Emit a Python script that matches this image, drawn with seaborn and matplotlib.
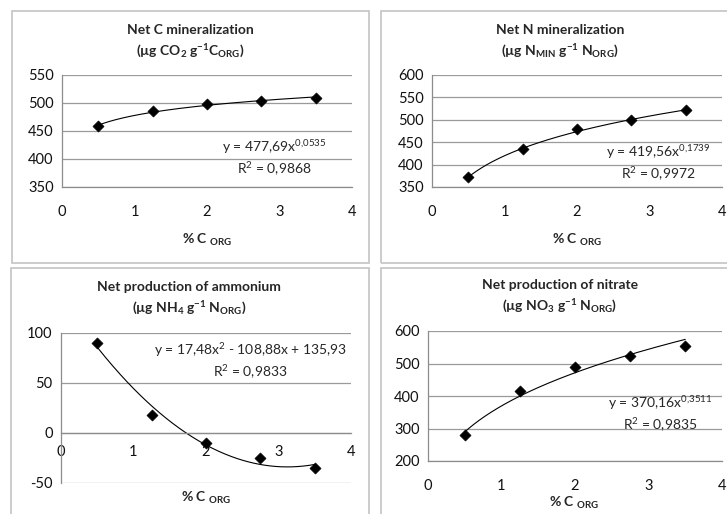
import numpy as np
import seaborn as sns
import matplotlib.pyplot as plt
from matplotlib.patches import Rectangle

sns.set_style("white")
plt.rcParams['font.family'] = ['Lato', 'DejaVu Sans']
plt.rcParams['mathtext.default'] = 'regular'
plt.rcParams['axes.unicode_minus'] = False

corg = [0.5, 1.25, 2, 2.75, 3.5]
c_min = [459, 485, 499, 503, 509]
n_min = [372, 434, 479, 499, 521]
nh4 = [90, 18, -10, -25, -35]
no3 = [281, 416, 488, 522, 555]

titles = [
    "Net C mineralization\n(µg CO$_2$ g$^{-1}$C$_{ORG}$)",
    "Net N mineralization\n(µg N$_{MIN}$ g$^{-1}$ N$_{ORG}$)",
    "Net production of ammonium\n(µg NH$_4$ g$^{-1}$ N$_{ORG}$)",
    "Net production of nitrate\n(µg NO$_3$ g$^{-1}$ N$_{ORG}$)",
]
equations = [
    "y = 477,69x$^{0{,}0535}$\nR$^2$ = 0,9868",
    "y = 419,56x$^{0{,}1739}$\nR$^2$ = 0,9972",
    "y = 17,48x$^2$ - 108,88x + 135,93\nR$^2$ = 0,9833",
    "y = 370,16x$^{0{,}3511}$\nR$^2$ = 0,9835",
]
ylims = [(350, 550), (350, 600), (-50, 100), (200, 600)]
ysteps = [50, 50, 50, 100]
fit_kind = ["power", "power", "poly2", "power"]
series = [c_min, n_min, nh4, no3]

W, H = 727, 514
fig = plt.figure(figsize=(W / 100, H / 100), dpi=100)

# pixel boxes: plot area (left, top, right, bottom), frame, title center, label y, eq center
plot_px = [(62, 75, 352, 187), (432, 75, 722, 187), (61, 333, 351, 483), (428, 331, 722, 461)]
frame_px = [(12, 11, 369, 263), (381, 11, 732, 263), (11, 268, 369, 520), (381, 268, 732, 520)]
title_px = [(190, 42), (560, 42), (189, 299), (560, 297)]
xlab_px = [(207, 240), (577, 240), (206, 498), (574, 503)]
eq_px = [(274, 158), (658, 163), (250, 361), (660, 414)]

def fx(x):
    return x / W

def fy(y):
    return 1 - y / H

for i in range(4):
    l, t, r, b = frame_px[i]
    fig.patches.append(Rectangle((fx(l), fy(b)), fx(r - l), (b - t) / H, transform=fig.transFigure,
                                 fill=False, edgecolor="#c4c4c4", linewidth=1.2))

    l, t, r, b = plot_px[i]
    ax = fig.add_axes([fx(l), fy(b), fx(r - l), (b - t) / H])
    x = np.array(corg)
    y = np.array(series[i], dtype=float)
    xs = np.linspace(x.min(), x.max(), 200)
    if fit_kind[i] == "power":
        k, c = np.polyfit(np.log(x), np.log(y), 1)
        ys = np.exp(c) * xs ** k
    else:
        ys = np.polyval(np.polyfit(x, y, 2), xs)
    sns.lineplot(x=xs, y=ys, ax=ax, color="black", linewidth=0.8)
    sns.scatterplot(x=x, y=y, ax=ax, marker="D", s=32, color="black", edgecolor="black", zorder=5)

    ax.set_xlim(0, 4)
    ax.set_ylim(*ylims[i])
    ax.set_xticks([0, 1, 2, 3, 4])
    ax.set_yticks(np.arange(ylims[i][0], ylims[i][1] + 1, ysteps[i]))
    ax.yaxis.grid(True, color="#9a9a9a", linewidth=0.9)
    ax.set_axisbelow(True)
    for s in ["top", "right"]:
        ax.spines[s].set_visible(False)
    for s in ["left", "bottom"]:
        ax.spines[s].set_color("#8c8c8c")
        ax.spines[s].set_linewidth(0.9)
    if i == 2:
        ax.spines["bottom"].set_position(("data", 0))
    ax.tick_params(axis="both", direction="out", length=4, width=0.8, color="#8c8c8c",
                   labelsize=10.5, labelcolor="#111111")
    ax.tick_params(axis="x", pad=9 if i != 2 else 5)
    ax.tick_params(axis="y", pad=2)
    ax.set_xlabel("")
    ax.set_ylabel("")

    fig.text(fx(title_px[i][0]), fy(title_px[i][1]), titles[i], ha="center", va="center",
             fontsize=10, fontweight="bold", linespacing=1.55)
    fig.text(fx(xlab_px[i][0]), fy(xlab_px[i][1]), "% C $_{ORG}$", ha="center", va="center",
             fontsize=10, fontweight="bold")
    fig.text(fx(eq_px[i][0]), fy(eq_px[i][1]), equations[i], ha="center", va="center",
             fontsize=10, linespacing=1.35)

fig.savefig("out.png", dpi=100)
